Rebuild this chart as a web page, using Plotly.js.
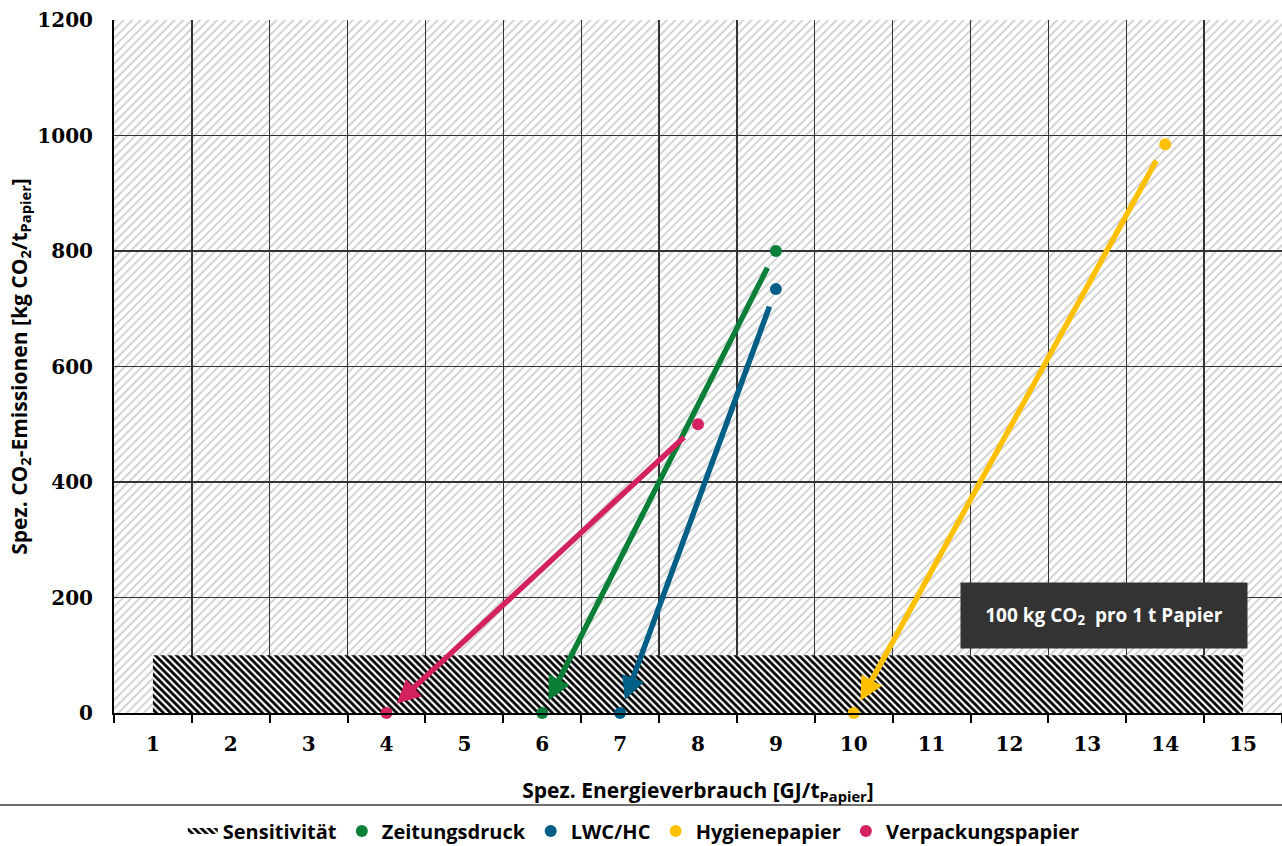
<!DOCTYPE html>
<html>
<head>
<meta charset="utf-8">
<script src="https://cdn.plot.ly/plotly-3.0.1.min.js"></script>
<style>
  html, body { margin: 0; padding: 0; background: #ffffff; }
  #chart { width: 1282px; height: 846px; }
</style>
</head>
<body>
<div id="chart"></div>
<script>
// Paper grades: specific energy use today (GJ/t) and CO2 emissions (kg/t),
// with the target state each grade is moving towards.
const seriesNames   = ["Zeitungsdruck", "LWC/HC", "Hygienepapier", "Verpackungspapier"];
const seriesColors  = ["#0a7f37", "#005f87", "#ffc000", "#d4215f"];
const energyStart   = [9, 9, 14, 8];
const co2Start      = [800, 734, 985, 500];
const energyTarget  = [6, 7, 10, 4];
const co2Target     = [0, 0, 0, 0];

// Sensitivity band: 0–100 kg CO2 per t paper across 1–15 GJ/t
const bandEnergy = [1, 15];
const bandCo2    = [0, 100];

const xRange = [0.5, 15.5];
const yRange = [0, 1200];
const xTickVals = [1, 2, 3, 4, 5, 6, 7, 8, 9, 10, 11, 12, 13, 14, 15];
const yTickVals = [0, 200, 400, 600, 800, 1000, 1200];

const boxLabel = "100 kg CO<sub>2</sub>  pro 1 t Papier";

// light diagonal hatching used as the plot background (drawn under the grid)
const hatchSvg =
  "<svg xmlns='http://www.w3.org/2000/svg' width='1168' height='693' viewBox='0 0 1168 693'>" +
  "<defs><pattern id='h' width='6' height='6' patternUnits='userSpaceOnUse' patternTransform='rotate(45)'>" +
  "<rect x='0' y='0' width='2' height='6' fill='#d3d3d3'/></pattern></defs>" +
  "<rect width='1168' height='693' fill='#ffffff'/>" +
  "<rect width='1168' height='693' fill='url(#h)'/></svg>";
const hatchUri = "data:image/svg+xml;charset=utf-8," + encodeURIComponent(hatchSvg);

const traces = [];

// sensitivity band
traces.push({
  type: "scatter", mode: "none", name: "Sensitivität",
  x: [bandEnergy[0], bandEnergy[1], bandEnergy[1], bandEnergy[0], bandEnergy[0]],
  y: [bandCo2[0], bandCo2[0], bandCo2[1], bandCo2[1], bandCo2[0]],
  fill: "toself",
  fillcolor: "#ffffff",
  fillpattern: { shape: "\\", fgcolor: "#000000", bgcolor: "#ffffff", size: 5, solidity: 0.55 },
  hoverinfo: "skip"
});

// start and target points of each grade
seriesNames.forEach((name, i) => {
  traces.push({
    type: "scatter", mode: "markers", name: name,
    x: [energyStart[i], energyTarget[i]],
    y: [co2Start[i], co2Target[i]],
    marker: { color: seriesColors[i], size: 12 },
    cliponaxis: false
  });
});

// arrows from today's value to the target value
const annotations = seriesNames.map((name, i) => ({
  x: energyTarget[i], y: co2Target[i], xref: "x", yref: "y",
  ax: energyStart[i], ay: co2Start[i], axref: "x", ayref: "y",
  text: "", showarrow: true,
  arrowhead: 2, arrowsize: 0.85, arrowwidth: 5.5,
  arrowcolor: seriesColors[i],
  standoff: 14, startstandoff: 17
}));

annotations.push({
  x: 13.21, y: 169, xref: "x", yref: "y",
  text: boxLabel, showarrow: false,
  bgcolor: "#333333", width: 284, height: 63,
  font: { family: "Open Sans, sans-serif", size: 19, color: "#ffffff", weight: "bold" }
});

const boldFont = (size) => ({ family: "Open Sans, sans-serif", size: size, color: "#000000", weight: "bold" });

const layout = {
  width: 1282, height: 846,
  margin: { l: 114, r: 0, t: 20, b: 133, autoexpand: false },
  paper_bgcolor: "#ffffff",
  plot_bgcolor: "#ffffff",
  showlegend: true,
  legend: {
    orientation: "h", x: 0.445, xanchor: "center",
    yref: "container", y: 0.0177, yanchor: "middle",
    font: boldFont(20),
    itemsizing: "constant", traceorder: "normal", itemwidth: 30
  },
  images: [{
    source: hatchUri, xref: "x", yref: "y",
    x: xRange[0], y: yRange[1], sizex: xRange[1] - xRange[0], sizey: yRange[1] - yRange[0],
    xanchor: "left", yanchor: "top", sizing: "stretch", layer: "below"
  }],
  xaxis: {
    range: xRange, fixedrange: true, automargin: false,
    tickmode: "array", tickvals: xTickVals,
    showgrid: false, zeroline: false,
    ticks: "", ticklabelstandoff: 12,
    showline: true, linecolor: "#000000", linewidth: 2,
    tickfont: { family: "DejaVu Serif, serif", size: 20, color: "#000000", weight: "bold" },
    minor: { tick0: 0.5, dtick: 1, showgrid: true, gridcolor: "#333333", gridwidth: 1.3,
             ticks: "outside", ticklen: 8, tickwidth: 2, tickcolor: "#000000" },
    title: {
      text: "Spez. Energieverbrauch [GJ/t<sub>Papier</sub>]",
      font: boldFont(21),
      standoff: 28
    }
  },
  yaxis: {
    range: yRange, fixedrange: true, automargin: false,
    tickmode: "array", tickvals: yTickVals,
    showgrid: true, gridcolor: "#333333", gridwidth: 1.3,
    zeroline: false, ticks: "",
    showline: true, linecolor: "#000000", linewidth: 2,
    tickfont: { family: "DejaVu Serif, serif", size: 20, color: "#000000", weight: "bold" },
    ticklabelstandoff: 15,
    title: {
      text: "Spez. CO<sub>2</sub>-Emissionen [kg CO<sub>2</sub>/t<sub>Papier</sub>]",
      font: boldFont(21),
      standoff: 4
    }
  },
  annotations: annotations,
  shapes: [{
    type: "line", xref: "paper", yref: "paper",
    x0: -0.1, x1: 1.0, y0: -0.1328, y1: -0.1328,
    line: { color: "#404040", width: 1.5 }
  }]
};

Plotly.newPlot("chart", traces, layout, { displayModeBar: false, staticPlot: true });
</script>
</body>
</html>
